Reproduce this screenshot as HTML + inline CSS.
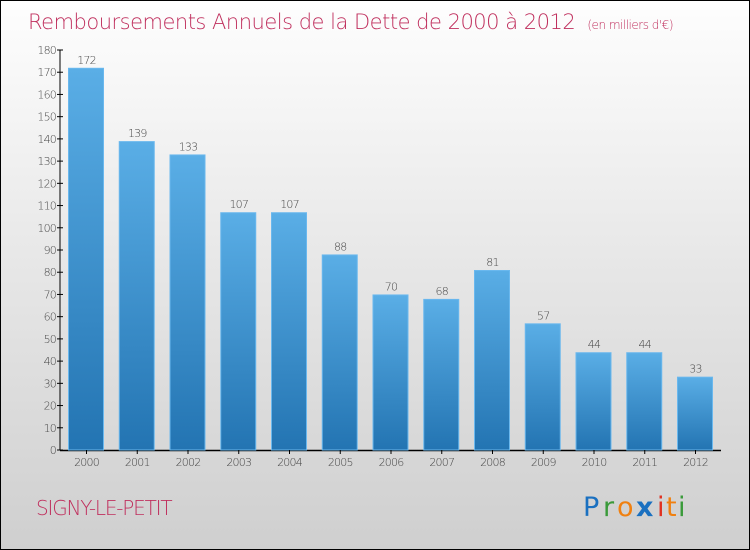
<!DOCTYPE html>
<html><head><meta charset="utf-8"><style>
body{margin:0;}
#c{position:relative;width:748px;height:548px;border:1px solid #000;background:linear-gradient(#fefefe,#e6e6e6 50%,#cfcfcf);font-family:"DejaVu Sans","Liberation Sans",sans-serif;overflow:hidden}
</style></head><body>
<div id="c">
<svg id="s" width="748" height="548">
<text x="27" y="28" font-size="21" fill="#c0305e" font-family="DejaVu Sans, sans-serif" font-weight="200" style="letter-spacing:-0.5px">Remboursements Annuels de la Dette de 2000 à 2012 <tspan font-size="12" dx="6">(en milliers d'€)</tspan></text>
<text x="35" y="514" font-size="20" fill="#c0305e" font-weight="200" style="letter-spacing:-1.2px">SIGNY-LE-PETIT</text>
<g font-size="27" font-family="DejaVu Sans, sans-serif">
<text x="582" y="515" fill="#1a70c0">P</text><text x="602" y="515" fill="#3a9a3a">r</text><text x="616" y="515" fill="#f08010">o</text><text x="635" y="515" fill="#1a70c0" font-weight="bold">x</text><text x="656" y="515" fill="#e03020">i</text><text x="665" y="515" fill="#f08010">t</text><text x="677" y="515" fill="#3a9a3a">i</text>
</g>
</svg>
</div>
<script>
const categories=["2000","2001","2002","2003","2004","2005","2006","2007","2008","2009","2010","2011","2012"];
const values=[172,139,133,107,107,88,70,68,81,57,44,44,33];
const ticks=[0,10,20,30,40,50,60,70,80,90,100,110,120,130,140,150,160,170,180];
const s=document.getElementById('s');const NS="http://www.w3.org/2000/svg";
function el(t,a){const e=document.createElementNS(NS,t);for(const k in a)e.setAttribute(k,a[k]);s.appendChild(e);return e;}
const y0=449,yTop=49,ymax=180;
const y=v=>y0-(y0-yTop)*v/ymax;
const x=i=>67+i*50.75;
const bw=35;
const defs=el('defs',{});
defs.innerHTML='<linearGradient id="g" x1="0" y1="0" x2="0" y2="1"><stop offset="0" stop-color="#5aaee6"/><stop offset="1" stop-color="#2374b2"/></linearGradient>';
const ax=el('line',{x1:59,y1:y(ymax),x2:59,y2:y0,stroke:'#000','stroke-width':1});

const xa=el('line',{x1:59,y1:y0+0.5,x2:720,y2:y0+0.5,stroke:'#000','stroke-width':1.5});

ticks.forEach(t=>{
 const l=el('line',{x1:56,x2:62,y1:y(t),y2:y(t),stroke:'#000'});
 
 const tx=el('text',{x:55,y:y(t)+4,'text-anchor':'end','font-size':11,fill:'#444','font-weight':'200','letter-spacing':'-0.8'});tx.textContent=t;
 
});
values.forEach((v,i)=>{
 const r=el('rect',{x:x(i)+0.5,y:y(v)+0.5,width:bw,height:y0-y(v)-0.5,fill:'url(#g)',stroke:'#6ab8ee','stroke-width':1});
 
 const t=el('text',{x:x(i)+bw/2+1,y:y(v)-4,'text-anchor':'middle','font-size':11,fill:'#444','font-weight':'200','letter-spacing':'-0.8'});t.textContent=v;
 
 const tk=el('line',{x1:x(i)+bw/2+1,x2:x(i)+bw/2+1,y1:y0,y2:y0+4,stroke:'#000'});
 
 const c=el('text',{x:x(i)+bw/2+1,y:y0+16,'text-anchor':'middle','font-size':11,fill:'#444','font-weight':'200','letter-spacing':'-0.8'});c.textContent=categories[i];
 
});
</script>
</body></html>
